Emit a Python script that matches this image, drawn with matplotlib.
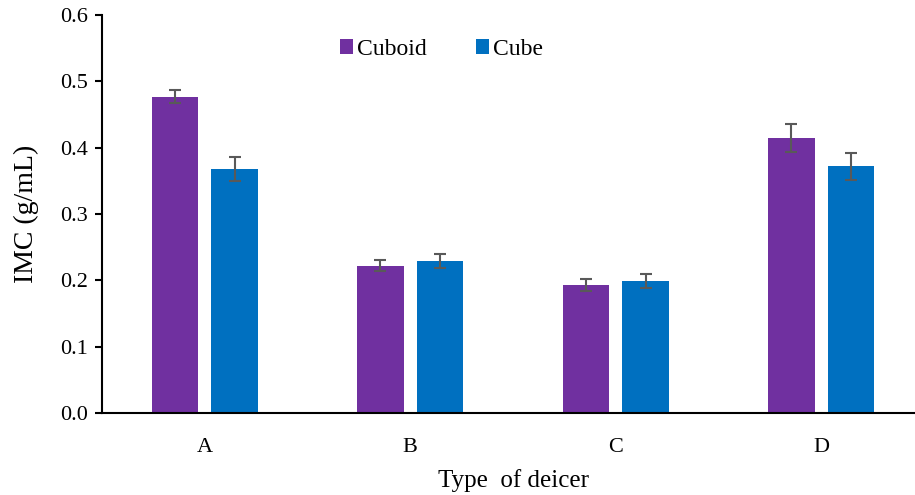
import numpy as np
import matplotlib.pyplot as plt

plt.rcParams['font.family'] = ['Liberation Serif', 'DejaVu Serif']

categories = ['A', 'B', 'C', 'D']
cuboid = [0.477, 0.222, 0.193, 0.415]
cuboid_err = [0.010, 0.008, 0.009, 0.021]
cube = [0.368, 0.229, 0.199, 0.372]
cube_err = [0.018, 0.010, 0.011, 0.020]

fig = plt.figure(figsize=(9.15, 4.95), dpi=100)
ax = fig.add_axes([102/915, 82/495, 822/915, 398/495])

x = np.arange(len(categories))
w = 0.228
ekw = dict(ecolor='#595959', elinewidth=1.5, capsize=4.3, capthick=1.5)
ax.bar(x - 0.145, cuboid, w, yerr=cuboid_err, color='#7030A0', label='Cuboid', error_kw=ekw)
ax.bar(x + 0.145, cube, w, yerr=cube_err, color='#0070C0', label='Cube', error_kw=ekw)

ax.set_xlim(-0.5, 3.5)
ax.set_ylim(0, 0.6)
ticks = np.arange(0, 0.61, 0.1)
ax.set_yticks(ticks)
ax.set_yticklabels([f'{v:.1f}' for v in ticks])
ax.set_xticks(x)
ax.set_xticklabels(categories)
ax.tick_params(axis='x', length=0, pad=18, labelsize=16)
ax.tick_params(axis='y', direction='out', length=5, width=1.5, labelsize=16, pad=5)
for s in ['top', 'right']:
    ax.spines[s].set_visible(False)
ax.spines['left'].set_linewidth(1.5)
ax.spines['bottom'].set_linewidth(1.5)

ax.set_ylabel('IMC (g/mL)', fontsize=20, labelpad=15)
ax.set_xlabel('Type  of deicer', fontsize=18, labelpad=9)

ax.legend(loc='upper left', bbox_to_anchor=(0.289, 0.94), ncol=2, frameon=False,
          fontsize=17, handlelength=0.55, handleheight=0.55, handletextpad=0.17,
          columnspacing=2.1, borderpad=0, borderaxespad=0)

fig.savefig('out.png', dpi=100)
